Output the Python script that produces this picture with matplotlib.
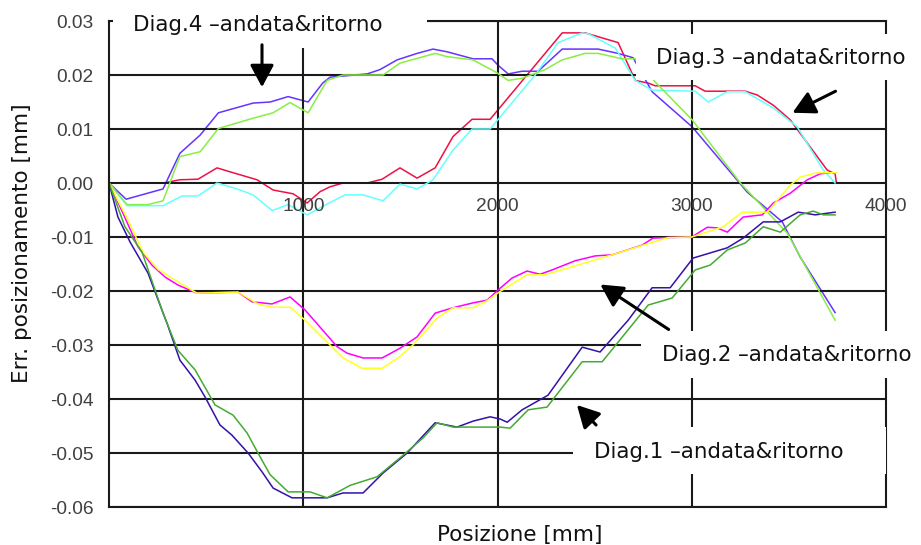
import matplotlib
matplotlib.use("Agg")
import matplotlib.pyplot as plt
from matplotlib.patches import Rectangle, FancyArrowPatch

plt.rcParams['axes.unicode_minus'] = False

W, H = 921, 545

# Diag.4 andata / ritorno
d4a_x = [0, 88, 278, 365, 470, 563, 742, 830, 922, 1025, 1100, 1138, 1329, 1395, 1483,
         1586, 1668, 1740, 1874, 1972, 2003, 2055, 2127, 2209, 2333, 2518, 2621, 2698,
         2796, 3002, 3286, 3466, 3558, 3738]
d4a_y = [0, -0.003, -0.0011, 0.0055, 0.0089, 0.013, 0.0148, 0.015, 0.016, 0.015, 0.0185,
         0.0196, 0.0202, 0.021, 0.0228, 0.024, 0.0248, 0.0243, 0.023, 0.023, 0.0218, 0.0202,
         0.0207, 0.0207, 0.0248, 0.0248, 0.024, 0.0232, 0.0169, 0.0104, -0.0017, -0.0072,
         -0.0137, -0.024]
d4b_x = [0, 93, 200, 278, 365, 470, 563, 742, 845, 932, 1025, 1123, 1205, 1411, 1498, 1679,
         1740, 1874, 1998, 2055, 2127, 2245, 2333, 2451, 2518, 2641, 2709, 2812, 3002, 3250,
         3492, 3738]
d4b_y = [0, -0.004, -0.004, -0.0033, 0.0049, 0.0058, 0.0101, 0.012, 0.013, 0.0149, 0.013,
         0.019, 0.02, 0.02, 0.0222, 0.024, 0.0234, 0.0228, 0.0204, 0.019, 0.0194, 0.021,
         0.0228, 0.024, 0.024, 0.023, 0.023, 0.0187, 0.0117, 0.0, -0.0093, -0.0254]

# Diag.3 andata / ritorno
d3a_x = [0, 280, 365, 458, 556, 639, 762, 845, 948, 1020, 1087, 1138, 1205, 1329, 1406,
         1498, 1586, 1679, 1771, 1869, 1962, 2013, 2333, 2451, 2621, 2709, 2776, 2812, 3018,
         3069, 3276, 3337, 3420, 3507, 3697, 3738, 3745]
d3a_y = [0, 0, 0.0006, 0.0007, 0.0028, 0.0019, 0.0006, -0.0013, -0.002, -0.0037, -0.0016,
         -0.0007, 0.0, 0.0, 0.0007, 0.0028, 0.0009, 0.0028, 0.0086, 0.0118, 0.0118, 0.014,
         0.0278, 0.0278, 0.026, 0.019, 0.0185, 0.018, 0.018, 0.017, 0.017, 0.0163, 0.0144,
         0.0117, 0.0024, 0.0017, 0.0]
d3b_x = [0, 93, 278, 376, 458, 556, 659, 742, 840, 922, 1020, 1123, 1215, 1308, 1411, 1498,
         1586, 1668, 1771, 1869, 1962, 2013, 2194, 2312, 2436, 2470, 2606, 2709, 2796, 3018,
         3085, 3183, 3276, 3420, 3543, 3677, 3738]
d3b_y = [0, -0.0042, -0.0042, -0.0024, -0.0024, 0.0, -0.0011, -0.0022, -0.0051, -0.004,
         -0.0059, -0.0039, -0.0022, -0.0022, -0.0033, -0.0002, -0.0011, 0.0006, 0.0061, 0.01,
         0.01, 0.0122, 0.02, 0.026, 0.0278, 0.0276, 0.025, 0.019, 0.0172, 0.017, 0.015,
         0.0169, 0.0169, 0.0139, 0.0104, 0.0024, 0.0]

# Diag.2 andata / ritorno
d2a_x = [0, 72, 149, 221, 288, 355, 453, 664, 736, 839, 932, 1009, 1174, 1225, 1308, 1406,
         1498, 1586, 1679, 1771, 1874, 1946, 2013, 2075, 2152, 2219, 2281, 2400, 2503, 2590,
         2745, 2801, 2879, 3000, 3080, 3130, 3183, 3265, 3363, 3420, 3507, 3595, 3661, 3712]
d2a_y = [0, -0.0056, -0.0118, -0.0152, -0.0174, -0.0189, -0.0204, -0.0202, -0.022, -0.0224,
         -0.0211, -0.0235, -0.0303, -0.0315, -0.0324, -0.0324, -0.0306, -0.0285, -0.0241,
         -0.0231, -0.0222, -0.0217, -0.0195, -0.0176, -0.0163, -0.0169, -0.0161, -0.0144,
         -0.0135, -0.0133, -0.0115, -0.0102, -0.0101, -0.01, -0.0082, -0.0083, -0.0091,
         -0.0063, -0.0059, -0.0037, -0.0019, 0.0006, 0.0017, 0.0019]
d2b_x = [0, 98, 175, 252, 355, 453, 664, 767, 839, 932, 1009, 1205, 1303, 1406, 1488, 1565,
         1689, 1771, 1874, 1946, 2013, 2152, 2245, 2590, 2724, 2879, 3000, 3162, 3260, 3389,
         3507, 3558, 3646, 3745]
d2b_y = [0, -0.0069, -0.0128, -0.016, -0.0183, -0.0204, -0.0202, -0.0224, -0.023, -0.023,
         -0.0254, -0.0324, -0.0343, -0.0343, -0.0324, -0.03, -0.025, -0.0231, -0.0231,
         -0.0218, -0.0201, -0.017, -0.017, -0.0133, -0.0118, -0.0101, -0.01, -0.0081,
         -0.0054, -0.0054, -0.0004, 0.0011, 0.0019, 0.0019]

# Diag.1 andata / ritorno
d1a_x = [0, 46, 108, 201, 247, 299, 365, 443, 494, 571, 633, 716, 788, 845, 942, 1123, 1205,
         1308, 1411, 1535, 1679, 1792, 1874, 1962, 2013, 2050, 2127, 2260, 2436, 2528, 2673,
         2796, 2889, 3007, 3183, 3265, 3368, 3456, 3548, 3636, 3738]
d1a_y = [0, -0.0063, -0.0109, -0.0167, -0.0211, -0.026, -0.0328, -0.0365, -0.0396, -0.0448,
         -0.0467, -0.05, -0.0535, -0.0565, -0.0583, -0.0583, -0.0574, -0.0574, -0.0537,
         -0.05, -0.0444, -0.0452, -0.0441, -0.0433, -0.0437, -0.0443, -0.042, -0.0393,
         -0.0304, -0.0313, -0.0254, -0.0194, -0.0194, -0.0139, -0.012, -0.0102, -0.0072,
         -0.0072, -0.0054, -0.0059, -0.0054]
d1b_x = [0, 82, 170, 237, 278, 355, 443, 546, 639, 711, 767, 829, 922, 1035, 1123, 1241,
         1380, 1498, 1617, 1689, 1771, 2013, 2065, 2158, 2255, 2436, 2539, 2776, 2899, 3018,
         3095, 3183, 3276, 3368, 3456, 3558, 3625, 3677, 3738]
d1b_y = [0, -0.0081, -0.0128, -0.0198, -0.0241, -0.031, -0.0346, -0.0411, -0.043, -0.0463,
         -0.05, -0.054, -0.0572, -0.0572, -0.0583, -0.056, -0.0544, -0.0509, -0.0472,
         -0.0444, -0.0452, -0.0452, -0.0454, -0.042, -0.0415, -0.0331, -0.0331, -0.0226,
         -0.0213, -0.0161, -0.0152, -0.0124, -0.0111, -0.0081, -0.0091, -0.0059, -0.0052,
         -0.0059, -0.0059]

x_ticks = [1000, 2000, 3000, 4000]
y_ticks = [0.03, 0.02, 0.01, 0.0, -0.01, -0.02, -0.03, -0.04, -0.05, -0.06]

labels = ["Diag.4 \u2013andata&ritorno", "Diag.3 \u2013andata&ritorno",
          "Diag.2 \u2013andata&ritorno", "Diag.1 \u2013andata&ritorno"]


def fp(x, y):
    # pixel position -> figure fraction
    return x / W, 1 - y / H


fig = plt.figure(figsize=(W / 100, H / 100), dpi=100)
ax = fig.add_axes([109 / W, 1 - 507 / H, (886 - 109) / W, (507 - 21) / H])
ax.set_xlim(0, 4000)
ax.set_ylim(-0.06, 0.03)

grid_c = "#1a1a1a"
for v in y_ticks:
    ax.axhline(v, color=grid_c, lw=1.5, zorder=1.5)
for v in x_ticks[:-1]:
    ax.axvline(v, color=grid_c, lw=1.5, zorder=1.5)
for s in ax.spines.values():
    s.set_color(grid_c)
    s.set_linewidth(1.5)

lw = 1.1
ax.plot(d3a_x, d3a_y, color="#ee1144", lw=lw, zorder=1)
ax.plot(d3b_x, d3b_y, color="#66ffff", lw=lw, zorder=2)
ax.plot(d4a_x, d4a_y, color="#6633ff", lw=lw, zorder=1)
ax.plot(d4b_x, d4b_y, color="#88ee44", lw=lw, zorder=2)
ax.plot(d2a_x, d2a_y, color="#ff00ff", lw=lw, zorder=2)
ax.plot(d2b_x, d2b_y, color="#ffff22", lw=lw, zorder=2.1)
ax.plot(d1a_x, d1a_y, color="#3311aa", lw=lw, zorder=2)
ax.plot(d1b_x, d1b_y, color="#44aa33", lw=lw, zorder=2.1)

ax.set_xticks([])
ax.set_yticks(y_ticks)
ax.set_yticklabels(["%.2f" % v for v in y_ticks], family="Liberation Sans",
                   fontsize=13.8, color="#404040")
ax.tick_params(axis="y", length=0, pad=11)
for v in x_ticks:
    ax.text(v, -0.0044, str(v), ha="center", va="center", family="Liberation Sans",
            fontsize=13.8, color="#404040", zorder=3)

fig.text(*fp(22, 243), "Err. posizionamento [mm]", rotation=90, ha="center",
         va="center", fontsize=15.5, color="#111111")
fig.text(*fp(520, 535), "Posizione [mm]", ha="center", va="center", fontsize=15.5,
         color="#111111")

# white label boxes
boxes = [(113, 0, 427, 48), (636, 34, 913, 80), (641, 331, 913, 378), (573, 427, 886, 474)]
text_pos = [(133, 25), (656, 58), (662, 355), (594, 452)]
for (x0, y0, x1, y1), (tx, ty), lab in zip(boxes, text_pos, labels):
    fig.add_artist(Rectangle(fp(x0, y1), (x1 - x0) / W, (y1 - y0) / H,
                             transform=fig.transFigure, fc="white", ec="none", zorder=5))
    fig.text(*fp(tx, ty), lab, ha="left", va="center", fontsize=15.4, color="#111111",
             zorder=6)

arrows = [((262, 42), (262, 90)), ((838, 90), (790, 114)),
          ((671, 331), (598, 283)), ((598, 427), (575, 403))]
for a, b in arrows:
    fig.add_artist(FancyArrowPatch(fp(*a), fp(*b), transform=fig.transFigure,
                                   arrowstyle="-|>,head_length=0.75,head_width=0.4",
                                   mutation_scale=18, lw=2.2, color="black", zorder=7))

fig.savefig("out.png", dpi=100)
